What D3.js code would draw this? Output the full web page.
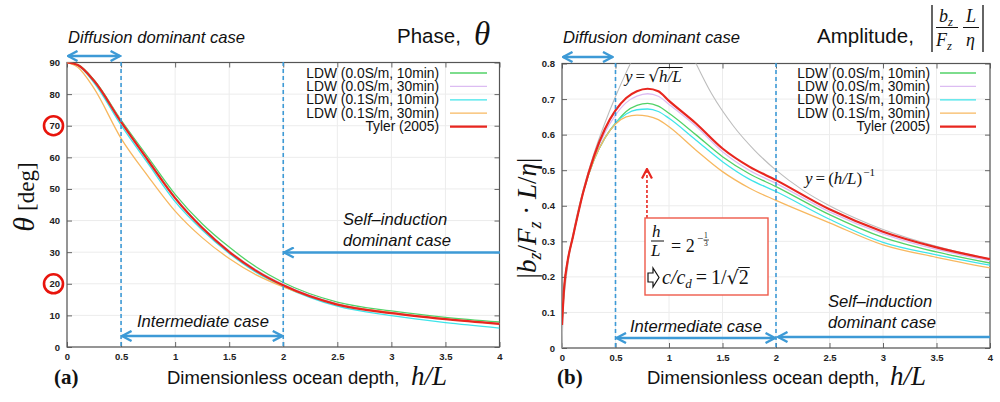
<!DOCTYPE html>
<html><head><meta charset="utf-8">
<script src="https://cdn.jsdelivr.net/npm/d3@7"></script>
<style>body{margin:0;background:#fff} svg{display:block}</style>
</head><body>
<svg id="c" width="1000" height="402"></svg>
<script>
// ---------------- data ----------------
const seriesNames = ["LDW (0.0S/m, 10min)", "LDW (0.0S/m, 30min)", "LDW (0.1S/m, 10min)", "LDW (0.1S/m, 30min)", "Tyler (2005)"];
const seriesColors = ["#52d267", "#dcbcf2", "#3fe4ea", "#f7b860", "#e8261f"];

const xTicks = [0, 0.5, 1, 1.5, 2, 2.5, 3, 3.5, 4];
const xTickLabels = ["0", "0.5", "1", "1.5", "2", "2.5", "3", "3.5", "4"];
const phaseTicks = [0, 10, 20, 30, 40, 50, 60, 70, 80, 90];
const phaseTickLabels = ["0", "10", "20", "30", "40", "50", "60", "70", "80", "90"];
const ampTicks = [0, 0.1, 0.2, 0.3, 0.4, 0.5, 0.6, 0.7, 0.8];
const ampTickLabels = ["0", "0.1", "0.2", "0.3", "0.4", "0.5", "0.6", "0.7", "0.8"];
const circledTicks = [70, 20];
const regionBounds = [0.5, 2];
const peakDepth = 0.794;

const phaseX = [0, 0.1, 0.25, 0.5, 0.75, 1, 1.25, 1.5, 1.75, 2, 2.5, 3, 3.5, 4];
const phaseLDW00_10 = [90, 89.3, 84.5, 71.8, 60.0, 48.3, 39.0, 31.6, 25.3, 20.4, 14.2, 11.4, 9.4, 7.9];
const phaseLDW00_30 = [90, 89.2, 84.2, 71.4, 59.3, 47.4, 38.0, 30.4, 24.4, 19.8, 13.7, 10.9, 8.9, 7.4];
const phaseLDW01_10 = [90, 89.1, 83.6, 70.2, 58.0, 46.0, 37.0, 29.6, 23.6, 19.2, 12.9, 9.9, 7.7, 6.0];
const phaseLDW01_30 = [90, 88.5, 81.8, 66.0, 54.0, 43.0, 34.6, 28.0, 22.8, 19.0, 13.6, 10.9, 8.9, 7.3];
const phaseTyler    = [90, 89.2, 84.2, 71.2, 59.0, 47.1, 37.7, 30.1, 24.1, 19.5, 13.4, 10.7, 8.8, 7.3];

const ampX = [0, 0.02, 0.05, 0.1, 0.2, 0.3, 0.4, 0.5, 0.6, 0.7, 0.8, 0.9, 1.0, 1.25, 1.5, 1.75, 2.0, 2.5, 3.0, 3.5, 4.0];
const ampLDW00_10 = [0.065, 0.17, 0.24, 0.31, 0.44, 0.53, 0.59, 0.632, 0.665, 0.682, 0.688, 0.680, 0.660, 0.600, 0.538, 0.490, 0.454, 0.375, 0.311, 0.270, 0.239];
const ampLDW00_30 = [0.065, 0.17, 0.24, 0.31, 0.44, 0.535, 0.605, 0.655, 0.690, 0.708, 0.715, 0.708, 0.685, 0.624, 0.552, 0.500, 0.463, 0.383, 0.321, 0.277, 0.246];
const ampLDW01_10 = [0.065, 0.17, 0.24, 0.31, 0.44, 0.53, 0.59, 0.632, 0.658, 0.670, 0.672, 0.665, 0.646, 0.585, 0.524, 0.475, 0.440, 0.362, 0.297, 0.262, 0.233];
const ampLDW01_30 = [0.065, 0.17, 0.24, 0.31, 0.44, 0.53, 0.59, 0.630, 0.650, 0.655, 0.652, 0.642, 0.622, 0.557, 0.496, 0.450, 0.415, 0.352, 0.290, 0.255, 0.225];
const ampTyler    = [0.065, 0.17, 0.24, 0.31, 0.44, 0.54, 0.615, 0.668, 0.703, 0.722, 0.729, 0.722, 0.695, 0.632, 0.561, 0.510, 0.472, 0.390, 0.327, 0.283, 0.250];

const sqrtRefX = [0, 0.01, 0.03, 0.06, 0.1, 0.15, 0.2, 0.3, 0.4, 0.5, 0.6, 0.7];
const sqrtRefY = [0, 0.1, 0.173, 0.245, 0.316, 0.387, 0.447, 0.548, 0.632, 0.707, 0.775, 0.837];
const invRefX = [1.2, 1.4, 1.6, 1.8, 2.0, 2.25, 2.5, 2.75, 3.0, 3.25, 3.5, 3.75, 4.0];
const invRefY = [0.833, 0.714, 0.625, 0.556, 0.5, 0.444, 0.4, 0.364, 0.333, 0.308, 0.286, 0.267, 0.25];

// ---------------- drawing ----------------
const svg = d3.select("#c");
const BLUE = "#3d9ad6";
const SANS = "'Liberation Sans', Arial, sans-serif";
const SERIF = "'Liberation Serif', 'DejaVu Serif', serif";

const defs = svg.append("defs");
function mk(id, color, w) {
  defs.append("marker").attr("id", id).attr("viewBox", "0 0 12 12")
    .attr("refX", 10.5).attr("refY", 6).attr("markerWidth", 12).attr("markerHeight", 12)
    .attr("markerUnits", "userSpaceOnUse").attr("orient", "auto-start-reverse")
    .append("path").attr("d", "M1,1 L10.5,6 L1,11").attr("fill", "none")
    .attr("stroke", color).attr("stroke-width", w).attr("stroke-linejoin", "miter");
}
mk("ab", BLUE, 2.4);
mk("ar", "#e8261f", 2.2);

function panel(id, x, y, yTicks, yTickLabels) {
  const [x0, x1] = x.range(), [y0, y1] = y.range();
  const g = svg.append("g");
  defs.append("clipPath").attr("id", "clip" + id).append("rect")
    .attr("x", x0).attr("y", y1).attr("width", x1 - x0).attr("height", y0 - y1);
  g.append("g").selectAll("line").data(xTicks).join("line")
    .attr("x1", d => x(d)).attr("x2", d => x(d)).attr("y1", y0).attr("y2", y1)
    .attr("stroke", "#ececec").attr("stroke-width", 1);
  g.append("g").selectAll("line").data(yTicks).join("line")
    .attr("y1", d => y(d)).attr("y2", d => y(d)).attr("x1", x0).attr("x2", x1)
    .attr("stroke", "#ececec").attr("stroke-width", 1);
  const style = s => {
    s.select(".domain").remove();
    s.selectAll(".tick line").attr("stroke", "#666");
    s.selectAll("text").attr("font-family", SANS).attr("font-weight", "bold")
      .attr("font-size", 9.5).attr("fill", "#222");
  };
  g.append("g").attr("transform", `translate(0,${y0})`)
    .call(d3.axisBottom(x).tickValues(xTicks).tickFormat((d, i) => xTickLabels[i]).tickSize(-5).tickPadding(6)).call(style);
  g.append("g").attr("transform", `translate(0,${y1})`)
    .call(d3.axisTop(x).tickValues(xTicks).tickFormat("").tickSize(-5)).call(style);
  g.append("g").attr("transform", `translate(${x0},0)`)
    .call(d3.axisLeft(y).tickValues(yTicks).tickFormat((d, i) => yTickLabels[i]).tickSize(-5).tickPadding(7)).call(style);
  g.append("g").attr("transform", `translate(${x1},0)`)
    .call(d3.axisRight(y).tickValues(yTicks).tickFormat("").tickSize(-5)).call(style);
  g.append("rect").attr("x", x0).attr("y", y1).attr("width", x1 - x0).attr("height", y0 - y1)
    .attr("fill", "none").attr("stroke", "#555").attr("stroke-width", 1.2);
  return g;
}

function curves(g, id, x, y, xs, list) {
  const line = d3.line().curve(d3.curveMonotoneX).x(d => x(d[0])).y(d => y(d[1]));
  const cg = g.append("g").attr("clip-path", `url(#clip${id})`);
  list.forEach((vals, i) => {
    cg.append("path").attr("d", line(xs.map((v, k) => [v, vals[k]])))
      .attr("fill", "none").attr("stroke", seriesColors[i])
      .attr("stroke-width", i === 4 ? 2.2 : 1.3);
  });
  return cg;
}

function legend(g, textRight, lx0, lx1) {
  seriesNames.forEach((n, i) => {
    const by = 77.5 + i * 13.4;
    g.append("text").attr("x", textRight).attr("y", by).attr("text-anchor", "end")
      .attr("font-family", SANS).attr("font-size", 13.8).attr("fill", "#111").text(n);
    g.append("line").attr("x1", lx0).attr("x2", lx1).attr("y1", by - 4.5).attr("y2", by - 4.5)
      .attr("stroke", seriesColors[i]).attr("stroke-width", i === 4 ? 2.2 : 1.3);
  });
}

function txt(x, y, s, o = {}) {
  const t = svg.append("text").attr("x", x).attr("y", y)
    .attr("font-family", o.ff || SANS).attr("font-size", o.fs || 15)
    .attr("fill", o.fill || "#111");
  if (o.it) t.attr("font-style", "italic");
  if (o.bold) t.attr("font-weight", "bold");
  if (o.anchor) t.attr("text-anchor", o.anchor);
  t.text(s);
  return t;
}
// sequential math-like text: each part placed after the previous one
function seq(x, y, parts) {
  let cx = x;
  parts.forEach(p => {
    const t = txt(cx, y + (p.dy || 0), p.t, { ff: p.ff || SERIF, it: p.it, fs: p.fs });
    const w = t.node().getComputedTextLength();
    if (p.over) {
      svg.append("line").attr("x1", cx - 0.5).attr("x2", cx + w + 1).attr("y1", y - p.over).attr("y2", y - p.over)
        .attr("stroke", "#111").attr("stroke-width", 1);
    }
    cx += w + (p.gap || 0);
  });
  return cx;
}
function arrow(xa, ya, xb, yb, both, color = BLUE, w = 2.4, mid = "ab") {
  const l = svg.append("line").attr("x1", xa).attr("y1", ya).attr("x2", xb).attr("y2", yb)
    .attr("stroke", color).attr("stroke-width", w).attr("marker-end", `url(#${mid})`);
  if (both) l.attr("marker-start", `url(#${mid})`);
  return l;
}
const NOTE_FS = 16.6;

// ---------- Panel (a) ----------
const xL = d3.scaleLinear().domain([0, 4]).range([67, 499.5]);
const yL = d3.scaleLinear().domain([0, 90]).range([347, 62.5]);
const gL = panel("L", xL, yL, phaseTicks, phaseTickLabels);
curves(gL, "L", xL, yL, phaseX, [phaseLDW00_10, phaseLDW00_30, phaseLDW01_10, phaseLDW01_30, phaseTyler]);
legend(gL, 439, 450, 487);
regionBounds.forEach(b => {
  svg.append("line").attr("x1", xL(b)).attr("x2", xL(b)).attr("y1", 62).attr("y2", 347)
    .attr("stroke", BLUE).attr("stroke-width", 1.6).attr("stroke-dasharray", "4,3");
});
circledTicks.forEach(t => {
  svg.append("circle").attr("cx", 53.5).attr("cy", yL(t)).attr("r", 9.5)
    .attr("fill", "none").attr("stroke", "#e8140c").attr("stroke-width", 2.6);
});
txt(68, 43, "Diffusion dominant case", { it: true, fs: NOTE_FS });
arrow(xL(0) + 1, 56, xL(regionBounds[0]) - 1, 56, true);
txt(397, 43, "Phase,", { fs: 20.5 });
txt(474, 45, "θ", { ff: SERIF, it: true, fs: 33 });
txt(343, 225, "Self–induction", { it: true, fs: NOTE_FS });
txt(343, 246, "dominant case", { it: true, fs: NOTE_FS });
arrow(500, 252.5, xL(regionBounds[1]) + 1, 252.5, false);
txt(137, 327, "Intermediate case", { it: true, fs: NOTE_FS });
arrow(xL(regionBounds[0]) + 1, 336, xL(regionBounds[1]) - 1, 336, true);
txt(54, 384, "(a)", { ff: SERIF, bold: true, fs: 21 });
txt(167, 384, "Dimensionless ocean depth,", { fs: 18.5 });
txt(411, 385, "h/L", { ff: SERIF, it: true, fs: 27 });
const ylL = svg.append("text").attr("transform", "translate(34,197) rotate(-90)").attr("text-anchor", "middle")
  .attr("font-family", SERIF).attr("fill", "#111");
ylL.append("tspan").attr("font-style", "italic").attr("font-size", 30).text("θ");
ylL.append("tspan").attr("font-size", 23).attr("dx", 6).text("[deg]");

// ---------- Panel (b) ----------
const xR = d3.scaleLinear().domain([0, 4]).range([562, 990]);
const yR = d3.scaleLinear().domain([0, 0.8]).range([348, 63.5]);
const gR = panel("R", xR, yR, ampTicks, ampTickLabels);
const refLine = d3.line().curve(d3.curveMonotoneX).x(d => xR(d[0])).y(d => yR(d[1]));
const rg = gR.append("g").attr("clip-path", "url(#clipR)");
rg.append("path").attr("d", refLine(sqrtRefX.map((v, i) => [v, sqrtRefY[i]]))).attr("fill", "none").attr("stroke", "#bdbdbd").attr("stroke-width", 1.1);
rg.append("path").attr("d", refLine(invRefX.map((v, i) => [v, invRefY[i]]))).attr("fill", "none").attr("stroke", "#bdbdbd").attr("stroke-width", 1.1);
curves(gR, "R", xR, yR, ampX, [ampLDW00_10, ampLDW00_30, ampLDW01_10, ampLDW01_30, ampTyler]);
legend(gR, 930, 940, 976);
regionBounds.forEach(b => {
  svg.append("line").attr("x1", xR(b)).attr("x2", xR(b)).attr("y1", 63).attr("y2", 348)
    .attr("stroke", BLUE).attr("stroke-width", 1.6).attr("stroke-dasharray", "4,3");
});
txt(563, 43, "Diffusion dominant case", { it: true, fs: NOTE_FS });
arrow(xR(0) + 1, 57, xR(regionBounds[0]) - 3, 57, true);
txt(817, 43, "Amplitude,", { fs: 20.5 });
[932, 983].forEach(bx => svg.append("line").attr("x1", bx).attr("x2", bx).attr("y1", 5).attr("y2", 52).attr("stroke", "#111").attr("stroke-width", 1.3));
svg.append("line").attr("x1", 936).attr("x2", 958).attr("y1", 27.5).attr("y2", 27.5).attr("stroke", "#111").attr("stroke-width", 1);
svg.append("line").attr("x1", 963).attr("x2", 979).attr("y1", 27.5).attr("y2", 27.5).attr("stroke", "#111").attr("stroke-width", 1);
function sub(x, y, main, s, fs) {
  const t = svg.append("text").attr("x", x).attr("y", y).attr("font-family", SERIF).attr("font-style", "italic").attr("font-size", fs).attr("fill", "#111");
  t.append("tspan").text(main);
  if (s) t.append("tspan").attr("font-size", fs * 0.7).attr("dy", fs * 0.22).text(s);
  return t;
}
sub(939, 22, "b", "z", 18);
sub(936, 46, "F", "z", 18);
sub(966, 22, "L", null, 18);
sub(966, 46, "η", null, 18);
// y label
const ylR = svg.append("text").attr("transform", "translate(536,218) rotate(-90)").attr("text-anchor", "middle")
  .attr("font-family", SERIF).attr("font-size", 27).attr("fill", "#111");
ylR.append("tspan").text("|");
ylR.append("tspan").attr("font-style", "italic").text("b");
ylR.append("tspan").attr("font-style", "italic").attr("font-size", 18).attr("dy", 5).text("z");
ylR.append("tspan").attr("dy", -5).text("/");
ylR.append("tspan").attr("font-style", "italic").text("F");
ylR.append("tspan").attr("font-style", "italic").attr("font-size", 18).attr("dy", 5).text("z");
ylR.append("tspan").attr("dy", -5).text(" · ");
ylR.append("tspan").attr("font-style", "italic").text("L");
ylR.append("tspan").text("/");
ylR.append("tspan").attr("font-style", "italic").text("η");
ylR.append("tspan").text("|");

// reference labels
seq(625, 82, [
  { t: "y", it: true, fs: 17, gap: 3 },
  { t: "=", fs: 17, gap: 3 },
  { t: "√", ff: "DejaVu Sans", fs: 17 },
  { t: "h/L", it: true, fs: 17, over: 14.5 }
]);
seq(805, 184, [
  { t: "y", it: true, fs: 17, gap: 3 },
  { t: "=", fs: 17, gap: 3 },
  { t: "(", fs: 17 },
  { t: "h/L", it: true, fs: 17 },
  { t: ")", fs: 17, gap: 1 },
  { t: "−1", fs: 11, dy: -8 }
]);

// red annotation
arrow(xR(peakDepth), 218, xR(peakDepth), 169, false, "#e8261f", 1.6, "ar").attr("stroke-dasharray", "3,2");
svg.append("rect").attr("x", 645).attr("y", 218).attr("width", 123).attr("height", 77)
  .attr("fill", "#fff").attr("stroke", "#ee5a4a").attr("stroke-width", 1.4);
txt(652, 237, "h", { ff: SERIF, it: true, fs: 17 });
svg.append("line").attr("x1", 651).attr("x2", 664).attr("y1", 241).attr("y2", 241).attr("stroke", "#111").attr("stroke-width", 1);
txt(651, 256, "L", { ff: SERIF, it: true, fs: 17 });
txt(671, 252, "= 2", { ff: SERIF, fs: 18 });
txt(697, 242, "−", { ff: SERIF, fs: 11 });
txt(704, 238, "1", { ff: SERIF, fs: 7.5 });
svg.append("line").attr("x1", 703.5).attr("x2", 709).attr("y1", 240).attr("y2", 240).attr("stroke", "#111").attr("stroke-width", 0.7);
txt(704, 246, "3", { ff: SERIF, fs: 7.5 });
svg.append("path").attr("d", "M648,273 L653,273 L653,268 L659,277.5 L653,287 L653,282 L648,282 Z")
  .attr("fill", "#fff").attr("stroke", "#111").attr("stroke-width", 1.2);
seq(662, 284, [
  { t: "c/c", it: true, fs: 20 },
  { t: "d", it: true, fs: 13, dy: 4, gap: 4 },
  { t: "=", fs: 20, gap: 4 },
  { t: "1/", fs: 20 },
  { t: "√", ff: "DejaVu Sans", fs: 19 },
  { t: "2", fs: 20, over: 16.5 }
]);

txt(630, 332, "Intermediate case", { it: true, fs: NOTE_FS });
arrow(xR(regionBounds[0]) + 1, 338, xR(regionBounds[1]) - 1, 338, true);
txt(828, 307, "Self–induction", { it: true, fs: NOTE_FS });
txt(828, 328, "dominant case", { it: true, fs: NOTE_FS });
arrow(990, 337, xR(regionBounds[1]) + 2, 337, false);
txt(557, 384, "(b)", { ff: SERIF, bold: true, fs: 21 });
txt(647, 384, "Dimensionless ocean depth,", { fs: 18.5 });
txt(890, 385, "h/L", { ff: SERIF, it: true, fs: 27 });
</script>
</body></html>
